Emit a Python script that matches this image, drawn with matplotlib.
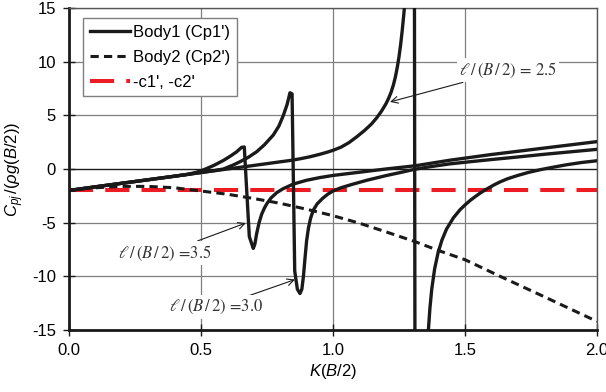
import matplotlib
matplotlib.use("Agg")
import matplotlib.pyplot as plt

# ---- data ----
k_shared = [0.0, 0.1, 0.2, 0.3, 0.4]
cp_shared = [-2.0, -1.66, -1.33, -1.0, -0.67]

# Body1, l/(B/2) = 3.5
k_35 = [0.45, 0.48, 0.5, 0.52, 0.55, 0.585, 0.61, 0.635, 0.654, 0.664, 0.672,
        0.683, 0.698, 0.704, 0.711, 0.72, 0.73, 0.74, 0.749, 0.765, 0.787,
        0.81, 0.85, 0.9, 0.95, 1.0, 1.1, 1.2, 1.311, 1.443, 1.6, 1.8, 2.0]
cp_35 = [-0.5, -0.32, -0.17, 0.03, 0.35, 0.8, 1.18, 1.6, 2.02, 2.05, -1.5,
         -6.3, -7.4, -7.0, -6.0, -5.0, -4.2, -3.65, -3.25, -2.7, -2.2,
         -1.85, -1.4, -1.05, -0.8, -0.6, -0.3, 0.0, 0.3, 0.82, 1.35, 1.95, 2.55]

# Body1, l/(B/2) = 3.0
k_30 = [0.5, 0.55, 0.585, 0.62, 0.648, 0.68, 0.711, 0.74, 0.774, 0.795,
        0.812, 0.826, 0.837, 0.845, 0.855, 0.865, 0.875, 0.882, 0.888, 0.894,
        0.9, 0.907, 0.915, 0.925, 0.94, 0.96, 0.98, 1.0, 1.03, 1.07, 1.128,
        1.2, 1.26, 1.311, 1.37, 1.443, 1.52, 1.6, 1.7, 1.8, 1.9, 2.0]
cp_30 = [-0.33, -0.15, 0.0, 0.35, 0.68, 1.1, 1.61, 2.25, 3.17, 4.0,
         5.0, 6.0, 7.1, 7.0, -9.5, -11.2, -11.6, -11.2, -10.0, -8.3,
         -6.7, -5.5, -4.6, -3.85, -3.25, -2.75, -2.35, -2.05, -1.75, -1.45, -1.05,
         -0.62, -0.3, -0.02, 0.22, 0.48, 0.68, 0.88, 1.12, 1.37, 1.6, 1.83]

# Body1, l/(B/2) = 2.5
k_25 = [0.5, 0.6, 0.7, 0.8, 0.84, 0.875, 0.913, 0.95, 0.98, 1.0, 1.03, 1.06,
        1.09, 1.12, 1.146, 1.165, 1.184, 1.2, 1.21, 1.22, 1.229, 1.237, 1.244,
        1.25, 1.256, 1.262, 1.268, 1.275, 1.285, 1.295, 1.306, 1.314, 1.34,
        1.36, 1.367, 1.374, 1.385, 1.398, 1.413, 1.43, 1.456, 1.481, 1.5,
        1.52, 1.54, 1.557, 1.58, 1.61, 1.633, 1.66, 1.7, 1.74, 1.784, 1.83,
        1.886, 1.94, 2.0]
cp_25 = [-0.33, 0.0, 0.33, 0.67, 0.8, 0.95, 1.14, 1.37, 1.58, 1.74, 2.03, 2.45,
         3.0, 3.6, 4.2, 4.75, 5.4, 6.05, 6.55, 7.15, 7.85, 8.65, 9.55,
         10.45, 11.55, 12.85, 14.35, 16.3, 19.5, 25.0, 60.0, -80.0, -30.0,
         -15.5, -13.0, -11.2, -9.3, -7.8, -6.6, -5.6, -4.55, -3.8, -3.35,
         -2.92, -2.55, -2.25, -1.9, -1.48, -1.2, -0.92, -0.6, -0.32, -0.07, 0.15,
         0.4, 0.6, 0.77]

# Body2
k_b2 = [0.0, 0.05, 0.1, 0.2, 0.3, 0.4, 0.5, 0.6, 0.7, 0.8, 0.9, 1.0, 1.1,
        1.2, 1.311, 1.4, 1.5, 1.633, 1.8, 2.0]
cp_b2 = [-2.0, -1.85, -1.75, -1.62, -1.62, -1.75, -2.05, -2.35, -2.75, -3.2,
         -3.75, -4.35, -5.05, -5.85, -6.77, -7.6, -8.45, -10.0, -11.9, -14.2]

# -c1', -c2'
k_c = [0.0, 2.0]
c_val = [-2.0, -2.0]

legend_labels = ["Body1 (Cp1')", "Body2 (Cp2')", "-c1', -c2'"]
ann_labels = ["= 2.5", "=3.5", "=3.0"]
x_ticks = [0.0, 0.5, 1.0, 1.5, 2.0]
y_ticks = [-15, -10, -5, 0, 5, 10, 15]

# ---- style ----
plt.rcParams['font.family'] = ['Liberation Sans', 'DejaVu Sans']
plt.rcParams['axes.unicode_minus'] = False
plt.rcParams['mathtext.fontset'] = 'custom'
plt.rcParams['mathtext.rm'] = 'Liberation Sans'
plt.rcParams['mathtext.it'] = 'Liberation Sans:italic'
plt.rcParams['mathtext.bf'] = 'Liberation Sans:bold'

fig = plt.figure(figsize=(6.06, 3.92), dpi=100)
ax = fig.add_axes([69/606, 1-330/392, (597-69)/606, (330-8)/392])

solid_kw = dict(color='#1a1a1a', lw=2.4, solid_joinstyle='round', zorder=4)
ax.plot(k_shared + k_35, cp_shared + cp_35, label=legend_labels[0], **solid_kw)
ax.plot(k_shared + k_30, cp_shared + cp_30, **solid_kw)
ax.plot(k_shared + k_25, cp_shared + cp_25, **solid_kw)
ax.plot(k_b2, cp_b2, color='#1a1a1a', lw=2.2, dashes=(2.7, 1.7),
        label=legend_labels[1], zorder=4)
ax.plot(k_c, c_val, color='#ED1C24', lw=2.9, dashes=(6, 3),
        label=legend_labels[2], zorder=3)

ax.set_xlim(0, 2)
ax.set_ylim(-15, 15)
ax.set_xticks(x_ticks)
ax.set_xticklabels([f"{v:.1f}" for v in x_ticks])
ax.set_yticks(y_ticks)
ax.set_yticklabels([f"{v:d}" for v in y_ticks])
ax.tick_params(direction='inout', length=9, width=1, labelsize=12, pad=5,
               color='#1a1a1a')

ax.grid(True, color='#7f7f7f', lw=0.9, zorder=1)
ax.set_axisbelow(True)
ax.axhline(0, color='#1a1a1a', lw=0.9, zorder=1.5)

for s in ['left', 'bottom']:
    ax.spines[s].set_color('#1a1a1a')
    ax.spines[s].set_linewidth(2.0)
for s in ['top', 'right']:
    ax.spines[s].set_color('#555555')
    ax.spines[s].set_linewidth(1.0)

ax.set_xlabel(r"$K(B/2)$", fontsize=12, labelpad=3)
ax.set_ylabel(r"$C_{pj}\,/(\rho g(B/2))$", fontsize=12, labelpad=4)

leg = ax.legend(loc='upper left', bbox_to_anchor=(0.0265, 0.969),
                borderaxespad=0, fancybox=False, framealpha=1,
                edgecolor='#7f7f7f', fontsize=12, handlelength=2.4,
                handletextpad=0.2, labelspacing=0.6, borderpad=0.4)
leg.get_frame().set_linewidth(1.0)

ann_kw = dict(fontsize=12, family=['STIXGeneral', 'DejaVu Serif'],
              math_fontfamily='stix', ha='center', va='center', color='#333333',
              bbox=dict(boxstyle='square,pad=0.15', fc='white', ec='none'),
              arrowprops=dict(arrowstyle='->', lw=0.8, color='#1a1a1a',
                              shrinkA=0, shrinkB=0), zorder=6)
lab = r"$\ell\,/\,(B\,/\,2)$ "
ax.annotate(lab + ann_labels[0], xy=(1.216, 6.25), xytext=(1.663, 9.2), **ann_kw)
ax.annotate(lab + ann_labels[1], xy=(0.670, -5.03), xytext=(0.364, -7.83), **ann_kw)
ax.annotate(lab + ann_labels[2], xy=(0.856, -10.3), xytext=(0.559, -12.86), **ann_kw)

fig.savefig("out.png", dpi=100)
